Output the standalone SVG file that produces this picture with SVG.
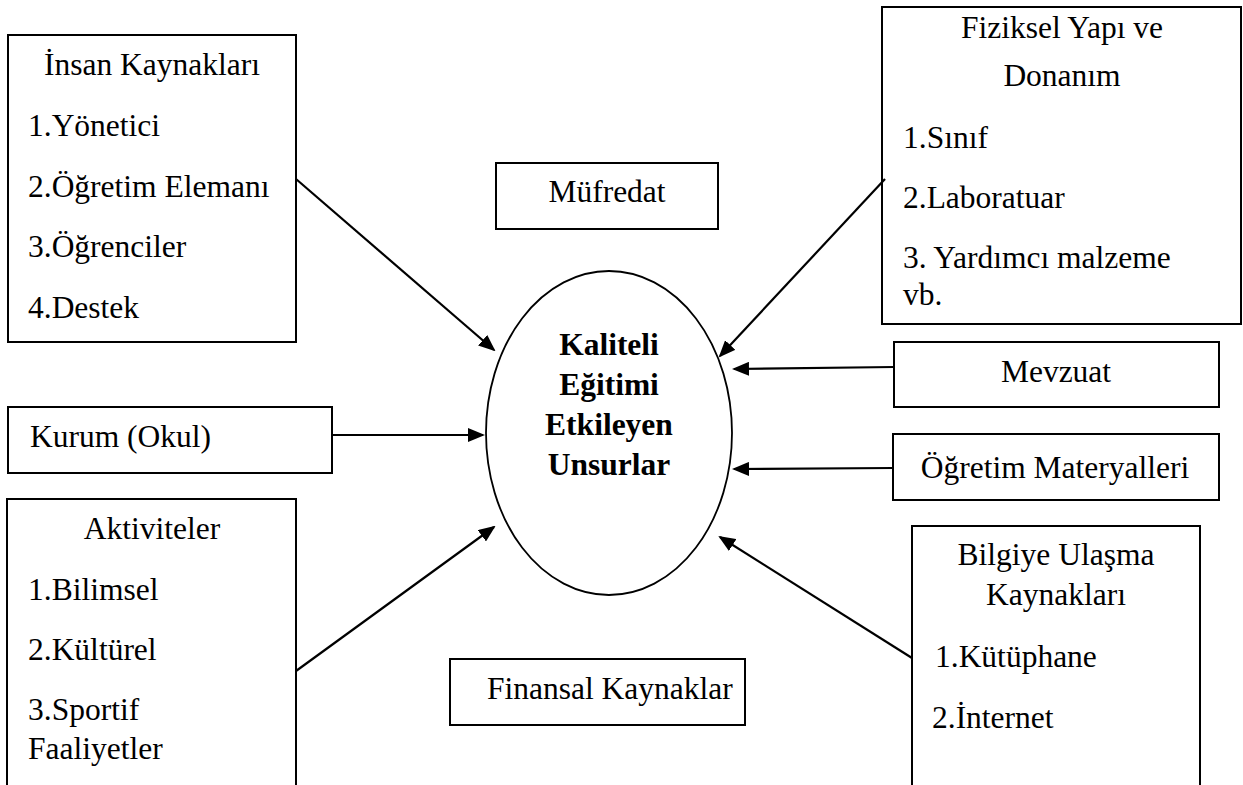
<svg xmlns="http://www.w3.org/2000/svg" width="1243" height="785" viewBox="0 0 1243 785">
<style>
  .box { fill: #fff; stroke: #000; stroke-width: 2; }
  text { font-family: 'Liberation Serif', 'DejaVu Serif', serif; font-size: 31.5px; fill: #000; }
  .c { text-anchor: middle; }
  .b { font-weight: bold; }
  .conn line { stroke: #000; stroke-width: 2.2; marker-end: url(#arrow); }
</style>
<defs>
  <marker id="arrow" viewBox="0 0 17 14" refX="15" refY="7" markerWidth="17" markerHeight="14" markerUnits="userSpaceOnUse" orient="auto">
    <path d="M0,0 L17,7 L0,14 z" fill="#000"/>
  </marker>
</defs>
<rect width="1243" height="785" fill="#fff"/>

<g id="insan-kaynaklari" font-family="Liberation Serif">
  <rect class="box" x="8" y="35" width="288" height="307"/>
  <text class="c" x="152" y="75">İnsan Kaynakları</text>
  <text x="28" y="136">1.Yönetici</text>
  <text x="28" y="197">2.Öğretim Elemanı</text>
  <text x="28" y="257">3.Öğrenciler</text>
  <text x="28" y="318">4.Destek</text>
</g>

<g id="mufredat">
  <rect class="box" x="496" y="163" width="222" height="66"/>
  <text class="c" x="607" y="202">Müfredat</text>
</g>

<g id="fiziksel-yapi">
  <rect class="box" x="882" y="7" width="359" height="317"/>
  <text class="c" x="1062" y="38">Fiziksel Yapı ve</text>
  <text class="c" x="1062" y="86">Donanım</text>
  <text x="903" y="148">1.Sınıf</text>
  <text x="903" y="208">2.Laboratuar</text>
  <text x="903" y="268">3. Yardımcı malzeme</text>
  <text x="903" y="305">vb.</text>
</g>

<g id="mevzuat">
  <rect class="box" x="894" y="342" width="325" height="65"/>
  <text class="c" x="1056" y="382">Mevzuat</text>
</g>

<g id="kurum">
  <rect class="box" x="8" y="407" width="324" height="66"/>
  <text x="30" y="447">Kurum (Okul)</text>
</g>

<g id="ogretim-materyalleri">
  <rect class="box" x="893" y="434" width="326" height="66"/>
  <text class="c" x="1055" y="478">Öğretim Materyalleri</text>
</g>

<g id="aktiviteler">
  <rect class="box" x="7" y="499" width="289" height="310"/>
  <text class="c" x="152" y="539">Aktiviteler</text>
  <text x="28" y="600">1.Bilimsel</text>
  <text x="28" y="660">2.Kültürel</text>
  <text x="28" y="720">3.Sportif</text>
  <text x="28" y="759">Faaliyetler</text>
</g>

<g id="bilgiye-ulasma">
  <rect class="box" x="912" y="526" width="288" height="290"/>
  <text class="c" x="1056" y="565">Bilgiye Ulaşma</text>
  <text class="c" x="1056" y="605">Kaynakları</text>
  <text x="935" y="667">1.Kütüphane</text>
  <text x="932" y="728">2.İnternet</text>
</g>

<g id="finansal">
  <rect class="box" x="450" y="659" width="295" height="66"/>
  <text x="487" y="699">Finansal Kaynaklar</text>
</g>

<g id="merkez">
  <ellipse cx="609" cy="433" rx="123" ry="162" fill="#fff" stroke="#000" stroke-width="1.8"/>
  <text class="c b" x="609" y="355">Kaliteli</text>
  <text class="c b" x="609" y="395">Eğitimi</text>
  <text class="c b" x="609" y="435">Etkileyen</text>
  <text class="c b" x="609" y="475">Unsurlar</text>
</g>

<g id="connectors" class="conn">
  <line x1="296" y1="179" x2="494" y2="350"/>
  <line x1="885" y1="179" x2="720" y2="356"/>
  <line x1="894" y1="367" x2="734" y2="369"/>
  <line x1="332" y1="435" x2="483" y2="435"/>
  <line x1="893" y1="468" x2="734" y2="469"/>
  <line x1="296" y1="671" x2="494" y2="527"/>
  <line x1="912" y1="658" x2="720" y2="537"/>
</g>
</svg>
